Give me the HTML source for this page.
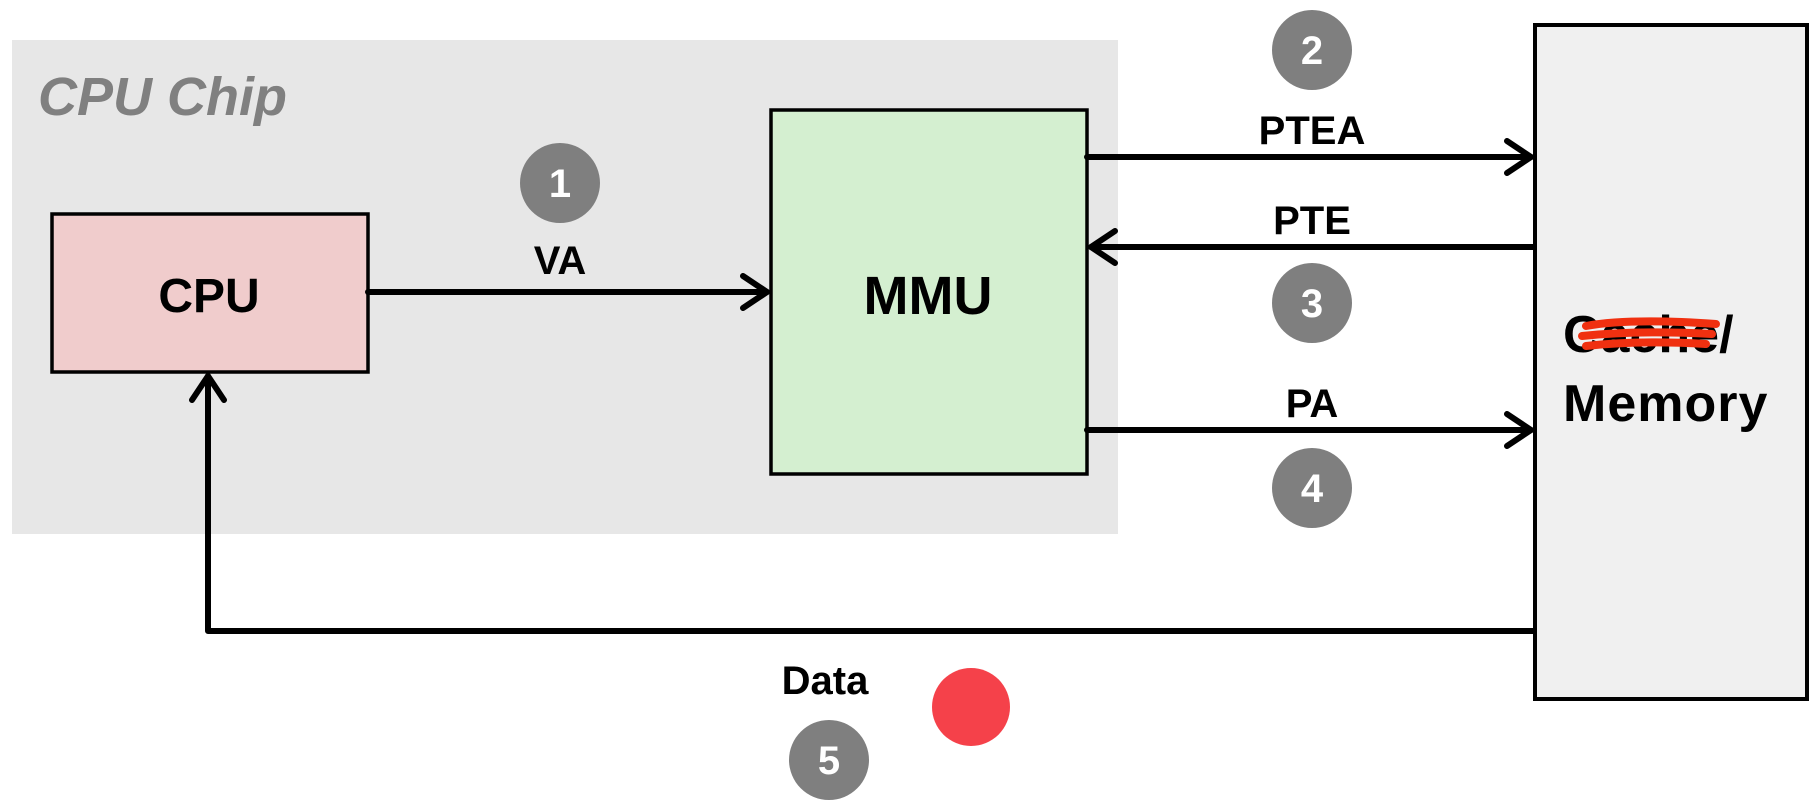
<!DOCTYPE html>
<html><head><meta charset="utf-8"><style>
html,body{margin:0;padding:0;background:#fff;}
svg{display:block;}
text{font-family:"Liberation Sans",sans-serif;font-weight:bold;}
</style></head><body>
<svg width="1813" height="800" viewBox="0 0 1813 800" xmlns="http://www.w3.org/2000/svg">
<rect x="12" y="40" width="1106" height="494" fill="#e7e7e7"/>
<text x="38" y="115" font-size="54" font-style="italic" fill="#808080">CPU Chip</text>
<rect x="52" y="214" width="316" height="158" fill="#f0cccc" stroke="#000" stroke-width="3.5"/>
<text x="209" y="312" font-size="48" text-anchor="middle" fill="#000">CPU</text>
<rect x="771" y="110" width="316" height="364" fill="#d4efd0" stroke="#000" stroke-width="3.5"/>
<text x="928" y="314" font-size="54" text-anchor="middle" fill="#000">MMU</text>
<rect x="1535" y="25" width="272" height="674" fill="#f0f0f0" stroke="#000" stroke-width="4"/>
<text x="1563" y="352" font-size="52" fill="#000">Cache/</text>
<path d="M1586 326 Q1630 318 1716 324 M1582 336 Q1640 330 1712 334 M1586 346 Q1640 340 1706 344" stroke="#f03010" stroke-width="8" fill="none" stroke-linecap="round"/>
<text x="1563" y="421" font-size="52" fill="#000" letter-spacing="1">Memory</text>
<g stroke="#000" stroke-width="6" fill="none" stroke-linecap="round" stroke-linejoin="round">
<line x1="368" y1="292" x2="767" y2="292"/><polyline points="743,276 767,292 743,308"/>
<line x1="1087" y1="157" x2="1531" y2="157"/><polyline points="1507,141 1531,157 1507,173"/>
<line x1="1533" y1="247" x2="1091" y2="247"/><polyline points="1115,231 1091,247 1115,263"/>
<line x1="1087" y1="430" x2="1531" y2="430"/><polyline points="1507,414 1531,430 1507,446"/>
<polyline points="1533,631 208,631 208,376"/><polyline points="192,400 208,376 224,400"/>
</g>
<g fill="#7f7f7f">
<circle cx="560" cy="183" r="40"/><circle cx="1312" cy="50" r="40"/>
<circle cx="1312" cy="303" r="40"/><circle cx="1312" cy="488" r="40"/>
<circle cx="829" cy="760" r="40"/>
</g>
<circle cx="971" cy="707" r="39" fill="#f5414a"/>
<g fill="#fff" font-size="40" text-anchor="middle">
<text x="560" y="197">1</text><text x="1312" y="64">2</text>
<text x="1312" y="317">3</text><text x="1312" y="502">4</text>
<text x="829" y="774">5</text>
</g>
<g fill="#000" font-size="40" text-anchor="middle">
<text x="560" y="274">VA</text><text x="1312" y="144">PTEA</text>
<text x="1312" y="234">PTE</text><text x="1312" y="417">PA</text>
<text x="825" y="694">Data</text>
</g>
</svg>
</body></html>
